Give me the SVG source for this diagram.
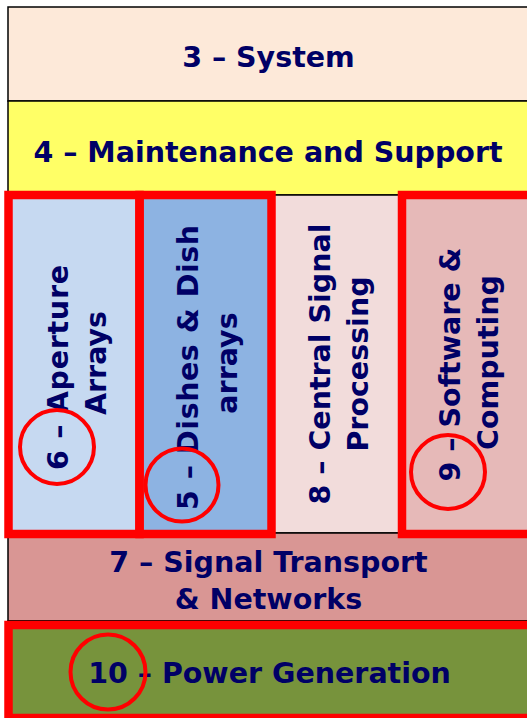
<svg xmlns="http://www.w3.org/2000/svg" width="527" height="718" viewBox="0 0 527 718">
<style>
.cell{stroke:#000;stroke-width:1.5}
.hl{fill:none;stroke:#FF0000;stroke-width:8.5}
.ring{fill:none;stroke:#FF0000;stroke-width:4}
.t{font-family:"DejaVu Sans",Verdana,sans-serif;font-weight:bold;font-size:28.5px;fill:#000066;text-anchor:middle}
</style>
<rect width="527" height="718" fill="#FFFFFF"/>
<g id="n3">
<rect class="cell" x="8" y="7" width="540" height="94" fill="#FDE9D9"/>
<text class="t" x="268.5" y="67">3 – System</text>
</g>
<g id="n4">
<rect class="cell" x="8" y="101" width="540" height="94" fill="#FFFF66"/>
<text class="t" x="268" y="162">4 – Maintenance and Support</text>
</g>
<g id="n6">
<rect class="cell" x="8" y="195" width="131.5" height="338" fill="#C6D9F1"/>
<text class="t" transform="rotate(-90)" x="-367.5" y="68" textLength="205">6 – Aperture</text>
<text class="t" transform="rotate(-90)" x="-363" y="106">Arrays</text>
</g>
<g id="n5">
<rect class="cell" x="139.5" y="195" width="132" height="338" fill="#8DB3E2"/>
<text class="t" transform="rotate(-90)" x="-367.5" y="198" textLength="285">5 – Dishes &amp; Dish</text>
<text class="t" transform="rotate(-90)" x="-363" y="237">arrays</text>
</g>
<g id="n8">
<rect class="cell" x="271.5" y="195" width="130.5" height="338" fill="#F2DCDB"/>
<text class="t" transform="rotate(-90)" x="-364" y="330">8 – Central Signal</text>
<text class="t" transform="rotate(-90)" x="-364" y="368">Processing</text>
</g>
<g id="n9">
<rect class="cell" x="402" y="195" width="140" height="338" fill="#E6B9B8"/>
<text class="t" transform="rotate(-90)" x="-364.5" y="460">9 – Software &amp;</text>
<text class="t" transform="rotate(-90)" x="-362.5" y="498">Computing</text>
</g>
<g id="n7">
<rect class="cell" x="8" y="533" width="540" height="88" fill="#D99694"/>
<text class="t" x="268.5" y="572">7 – Signal Transport</text>
<text class="t" x="268.5" y="609">&amp; Networks</text>
</g>
<g id="n10">
<rect class="cell" x="8" y="621" width="540" height="100" fill="#77933C"/>
<text class="t" x="269.5" y="683">10 – Power Generation</text>
</g>
<g id="highlights">
<rect class="hl" x="8.5" y="195" width="131" height="339"/>
<rect class="hl" x="139.5" y="195" width="132" height="339"/>
<rect class="hl" x="402" y="195" width="140" height="339"/>
<rect class="hl" x="8.5" y="625" width="540" height="93"/>
<circle class="ring" cx="57" cy="447" r="37"/>
<circle class="ring" cx="182" cy="485" r="36.5"/>
<circle class="ring" cx="448" cy="472" r="37"/>
<circle class="ring" cx="108" cy="672" r="37.5"/>
</g>
<g id="connectors"/>
</svg>
